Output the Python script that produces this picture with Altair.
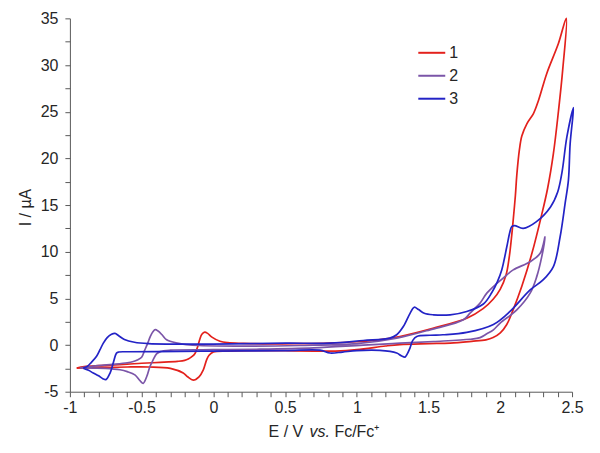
import altair as alt
import pandas as pd

# Cyclic voltammograms: (E / V vs Fc/Fc+, I / uA), points in scan order (closed loops)
red_points = [
    (-0.953, -2.47), (-0.9, -2.3), (-0.8, -2.2), (-0.72, -2.15), (-0.6, -2.05), (-0.5, -1.95),
    (-0.372, -1.86), (-0.25, -1.75), (-0.2, -1.65), (-0.175, -1.5), (-0.15, -1.25), (-0.128, -0.9),
    (-0.11, -0.2), (-0.095, 0.6), (-0.08, 1.15), (-0.06, 1.38), (-0.04, 1.25), (-0.01, 0.85),
    (0.046, 0.4), (0.1, 0.25), (0.21, 0.18), (0.4, 0.12), (0.6, 0.15), (0.8, 0.21), (1.0, 0.35),
    (1.15, 0.55), (1.3, 0.92), (1.53, 1.8), (1.77, 2.9), (1.88, 3.9), (1.95, 4.9), (2.0, 6.0),
    (2.04, 7.5), (2.063, 9.5), (2.08, 11.8), (2.09, 13.4), (2.105, 16.0), (2.115, 18.2),
    (2.133, 20.9), (2.15, 22.4), (2.185, 23.7), (2.231, 24.8), (2.266, 26.2), (2.324, 29.1),
    (2.405, 32.3), (2.46, 35.0),
    (2.435, 29.5), (2.405, 25.0), (2.37, 20.5), (2.33, 16.8), (2.289, 14.0), (2.22, 9.8),
    (2.15, 6.3), (2.09, 3.8), (2.045, 2.2), (2.0, 1.3), (1.95, 0.8), (1.9, 0.56), (1.8, 0.4),
    (1.65, 0.21), (1.5, 0.15), (1.3, 0.05), (1.2, -0.1), (1.0, -0.5), (0.85, -0.65), (0.7, -0.65),
    (0.5, -0.6), (0.3, -0.6), (0.1, -0.65), (0.0, -0.75), (-0.03, -1.1), (-0.047, -1.58),
    (-0.07, -2.65), (-0.1, -3.4), (-0.14, -3.75), (-0.18, -3.4), (-0.21, -3.0), (-0.3, -2.5),
    (-0.45, -2.35), (-0.6, -2.35), (-0.75, -2.4), (-0.9, -2.45), (-0.953, -2.47),
]

purple_points = [
    (-0.93, -2.45), (-0.85, -2.3), (-0.72, -2.1), (-0.6, -1.9), (-0.558, -1.76), (-0.53, -1.6),
    (-0.5, -1.3), (-0.48, -0.6), (-0.46, 0.1), (-0.44, 0.9), (-0.42, 1.45), (-0.405, 1.65),
    (-0.385, 1.5), (-0.355, 1.05), (-0.326, 0.56), (-0.25, 0.2), (-0.186, 0.05), (-0.1, -0.05),
    (0.2, -0.12), (0.6, -0.05), (1.0, 0.15), (1.278, 0.74), (1.51, 1.63), (1.743, 2.7),
    (1.789, 3.42), (1.859, 4.49), (1.906, 5.56), (1.976, 6.6), (2.022, 7.2), (2.09, 8.05),
    (2.208, 8.93), (2.278, 9.83), (2.312, 11.6),
    (2.289, 9.47), (2.254, 7.33), (2.208, 5.56), (2.115, 3.77), (1.999, 2.35), (1.952, 1.63),
    (1.906, 1.2), (1.859, 0.8), (1.789, 0.62), (1.534, 0.38), (1.3, 0.2), (1.045, 0.0),
    (0.7, -0.3), (0.3, -0.45), (0.0, -0.5), (-0.3, -0.55), (-0.37, -0.7), (-0.396, -0.95),
    (-0.42, -1.6), (-0.442, -2.3), (-0.465, -3.4), (-0.489, -4.1), (-0.51, -3.85), (-0.547, -3.2),
    (-0.6, -2.85), (-0.651, -2.65), (-0.75, -2.5), (-0.837, -2.47), (-0.93, -2.45),
]

blue_points = [
    (-0.907, -2.47), (-0.88, -2.3), (-0.85, -1.85), (-0.814, -1.2), (-0.79, -0.5), (-0.768, 0.18),
    (-0.74, 0.8), (-0.71, 1.15), (-0.686, 1.25), (-0.66, 1.0), (-0.62, 0.6), (-0.55, 0.3),
    (-0.45, 0.15), (-0.3, 0.1), (0.0, 0.1), (0.5, 0.2), (0.813, 0.21), (1.045, 0.49), (1.23, 0.74),
    (1.278, 1.1), (1.324, 1.98), (1.371, 3.4), (1.40, 4.05), (1.43, 3.8), (1.47, 3.4),
    (1.534, 3.24), (1.65, 3.24), (1.766, 3.6), (1.882, 4.4), (1.94, 5.6), (1.98, 6.8), (2.01, 8.05),
    (2.045, 10.5), (2.065, 12.0), (2.08, 12.7), (2.1, 12.8), (2.16, 12.5), (2.25, 13.2),
    (2.35, 14.8), (2.40, 16.4), (2.43, 18.5), (2.464, 22.3), (2.51, 25.45),
    (2.487, 21.6), (2.475, 17.7), (2.452, 15.2), (2.417, 11.6), (2.37, 8.4), (2.30, 7.0),
    (2.208, 5.9), (2.068, 3.6), (1.952, 2.2), (1.766, 1.35), (1.6, 1.1), (1.51, 1.05),
    (1.418, 0.92), (1.39, 0.5), (1.371, -0.3), (1.35, -1.0), (1.336, -1.29), (1.31, -1.15),
    (1.278, -0.86), (1.16, -0.58), (1.0, -0.6), (0.9, -0.75), (0.813, -0.85), (0.743, -0.55),
    (0.5, -0.6), (0.0, -0.65), (-0.4, -0.7), (-0.6, -0.72), (-0.66, -0.75), (-0.675, -0.87),
    (-0.698, -1.93), (-0.72, -3.0), (-0.749, -3.7), (-0.77, -3.6), (-0.8, -3.3), (-0.837, -3.0),
    (-0.87, -2.7), (-0.907, -2.47),
]

series_names = ["1", "2", "3"]
series_colors = ["#e3211c", "#7b55a8", "#2323c6"]

x_ticks = [round(-1 + 0.1 * i, 1) for i in range(36)]
y_ticks = [-5 + 2.5 * i for i in range(17)]

rows = []
for name, pts in zip(series_names, [red_points, purple_points, blue_points]):
    for k, (e, i) in enumerate(pts):
        rows.append({"series": name, "E": e, "I": i, "k": k})
df = pd.DataFrame(rows)

FONT = "Liberation Sans"
AX = "#595959"
LBL = "#262626"

lines = alt.Chart(df).mark_line(strokeWidth=1.7, interpolate="catmull-rom").encode(
    x=alt.X("E:Q",
            scale=alt.Scale(domain=[-1, 2.5], nice=False, zero=False),
            axis=alt.Axis(values=x_ticks, title=None, grid=False,
                          labelExpr="abs(round(datum.value*2) - datum.value*2) < 0.001 ? '' + datum.value : ''",
                          labelFlush=False, labelOverlap=False,
                          tickSize=5, labelPadding=3, domainColor=AX, tickColor=AX,
                          labelColor=LBL, labelFont=FONT, labelFontSize=16)),
    y=alt.Y("I:Q",
            scale=alt.Scale(domain=[-5, 35], nice=False, zero=False),
            axis=alt.Axis(values=y_ticks, title="I / µA", grid=False,
                          labelExpr="abs(round(datum.value/5) - datum.value/5) < 0.001 ? '' + datum.value : ''",
                          labelFlush=False, labelOverlap=False,
                          tickSize=5, labelPadding=7, domainColor=AX, tickColor=AX,
                          labelColor=LBL, labelFont=FONT, labelFontSize=16,
                          titleFont=FONT, titleFontSize=16, titleFontWeight="normal",
                          titleColor=LBL, titleX=-44, titleY=189,
                          titleAlign="center", titleBaseline="middle")),
    color=alt.Color("series:N",
                    scale=alt.Scale(domain=series_names, range=series_colors),
                    legend=alt.Legend(orient="none", legendX=348, legendY=20, title=None,
                                      symbolType="stroke", symbolSize=729, symbolStrokeWidth=2,
                                      labelFont=FONT, labelFontSize=16, labelColor=LBL,
                                      labelOffset=3, rowPadding=0, padding=0)),
    order="k:Q",
)

title_df = pd.DataFrame({"a": [0]})
t1 = alt.Chart(title_df).mark_text(text="E / V", align="left", baseline="middle",
                                   font=FONT, fontSize=16, color=LBL).encode(
    x=alt.value(199), y=alt.value(414))
t2 = alt.Chart(title_df).mark_text(text="vs.", align="left", baseline="middle",
                                   font=FONT, fontSize=16, fontStyle="italic", color=LBL).encode(
    x=alt.value(240), y=alt.value(414))
t3 = alt.Chart(title_df).mark_text(text="Fc/Fc⁺", align="left", baseline="middle",
                                   font=FONT, fontSize=16, color=LBL).encode(
    x=alt.value(265), y=alt.value(414))

chart = alt.layer(lines, t1, t2, t3).properties(
    width=503, height=374,
    autosize=alt.AutoSizeParams(type="none"),
    padding={"left": 62, "top": 10, "right": 20, "bottom": 50},
).configure_view(stroke=None)

chart.save("out.html", embed_options={"renderer": "svg", "actions": False})
